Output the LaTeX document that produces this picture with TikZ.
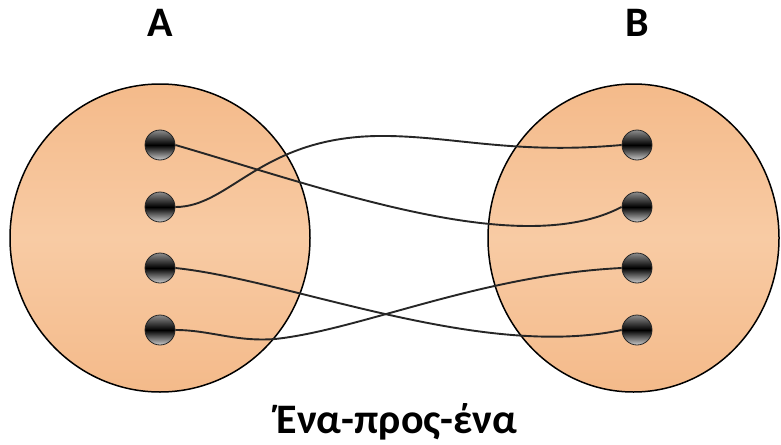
\documentclass[tikz,border=0pt]{standalone}
\usepackage{fontspec}
\setmainfont{Carlito}
\usetikzlibrary{shapes.geometric}
\definecolor{peach}{RGB}{244,186,138}
\definecolor{peachlight}{RGB}{248,203,164}

\begin{document}
\begin{tikzpicture}[x=1pt,y=-1pt]
	\tikzstyle{set}=[ellipse, draw, line width=1.5pt,
	top color=peach, bottom color=peach, middle color=peachlight,
	minimum height=308pt, inner sep=0pt]
	\tikzstyle{element}=[circle, draw=black!85, line width=0.8pt,
	top color=black!45, bottom color=black!20, middle color=black,
	minimum size=30pt, inner sep=0pt]
	\tikzstyle{mapping}=[line width=1.9pt, black!85]
	\tikzstyle{title}=[font=\bfseries\fontsize{42}{48}\selectfont, anchor=base]

	\useasboundingbox (0,0) rectangle (781,444);

	\node[set, minimum width=300pt] at (160,238) (setA) {};
	\node[set, minimum width=291pt] at (633.5,238) (setB) {};

	\node[element] at (160,145) (a1) {};
	\node[element] at (160,207) (a2) {};
	\node[element] at (160,268) (a3) {};
	\node[element] at (160,330) (a4) {};
	\node[element] at (637,145) (b1) {};
	\node[element] at (637,207) (b2) {};
	\node[element] at (637,268) (b3) {};
	\node[element] at (637,330) (b4) {};

	\draw[mapping] (a1.east) .. controls (330,190) and (520,260) .. (b2.west);
	\draw[mapping] (a2.east) .. controls (230,207) and (260,138) .. (377,136)
	.. controls (450,135) and (510,155) .. (b1.west);
	\draw[mapping] (a3.east) .. controls (290,280) and (480,360) .. (b4.west);
	\draw[mapping] (a4.east) .. controls (210,330) and (235,342) .. (275,339)
	.. controls (360,330) and (480,275) .. (b3.west);

	\node[title] at (160,37) (labelA) {A};
	\node[title] at (637,37) (labelB) {B};
	\node[title] at (397,433) (caption) {Ένα-προς-ένα};
\end{tikzpicture}
\end{document}
